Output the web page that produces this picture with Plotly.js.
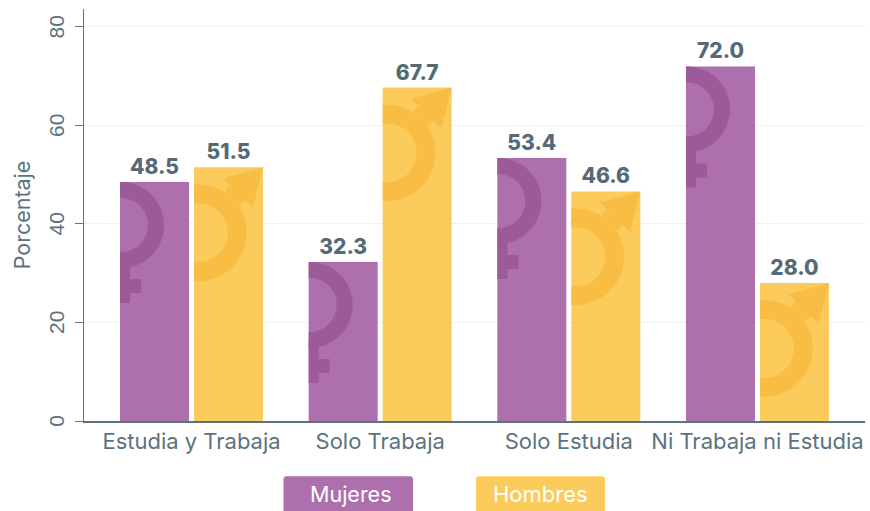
<!DOCTYPE html>
<html>
<head>
<meta charset="utf-8">
<script src="https://cdn.plot.ly/plotly-3.0.1.min.js"></script>
<style>html,body{margin:0;padding:0;background:#fff;overflow:hidden}#c{width:870px;height:511px}</style>
</head>
<body>
<div id="c"></div>
<script>
var categories = ["Estudia y Trabaja", "Solo Trabaja", "Solo Estudia", "Ni Trabaja ni Estudia"];
var mujeres = [48.5, 32.3, 53.4, 72.0];
var hombres = [51.5, 67.7, 46.6, 28.0];
var yTicks = [0, 20, 40, 60, 80];
var positions = [0, 1, 2, 3];

var PURPLE = "#AE6FAE", PURPLE_D = "#9C5A98", YELLOW = "#FBCB5C", YELLOW_D = "#F9BD44";
var SLATE = "#5B7380";
var FONT = "Inter, 'Open Sans', sans-serif";

function ring(cx, cy, R, r) {
  var pts = [], n = 48, i, a;
  var A = Math.acos(-cx / R), B = Math.acos(-cx / r);
  for (i = 0; i <= n; i++) { a = -A + 2 * A * i / n; pts.push([cx + R * Math.cos(a), cy + R * Math.sin(a)]); }
  for (i = n; i >= 0; i--) { a = -B + 2 * B * i / n; pts.push([cx + r * Math.cos(a), cy + r * Math.sin(a)]); }
  return pts;
}
function toPath(pts, dx) {
  return "M" + pts.map(function (p) { return (p[0] + dx).toFixed(1) + "," + (-p[1]).toFixed(1); }).join("L") + "Z";
}
var femaleParts = [
  ring(1, 43, 43, 27),
  [[0, 80], [10, 80], [10, 97], [21, 97], [21, 111], [10, 111], [10, 121], [0, 121]]
];
var maleParts = [
  ring(4.4, 65.3, 48.3, 29.5),
  [[35, 18.5], [52.5, 32], [45.3, 38.5], [31, 23.7]],
  [[69, 0], [28.7, 11.3], [58.7, 40.7]]
];

var SLOT = 74;
var shapes = [];
function addGlyph(parts, xanchor, yanchor, dx, color) {
  parts.forEach(function (pts) {
    shapes.push({type: "path", xsizemode: "pixel", ysizemode: "pixel", xref: "x", yref: "y",
      xanchor: xanchor, yanchor: yanchor, path: toPath(pts, dx),
      fillcolor: color, line: {width: 0}, layer: "above"});
  });
}
positions.forEach(function (p, i) {
  addGlyph(femaleParts, p, mujeres[i], -SLOT + 2.5, PURPLE_D);
  addGlyph(maleParts, p, hombres[i], 2.5, YELLOW_D);
});

function chip(x0, x1, color) {
  var y0 = -0.2215, y1 = -0.134, rx = 0.004, ry = 0.008;
  return {type: "path", xref: "paper", yref: "paper",
    path: "M" + x0 + "," + y0 + "L" + x0 + "," + (y1 - ry) + "Q" + x0 + "," + y1 + " " + (x0 + rx) + "," + y1 +
      "L" + (x1 - rx) + "," + y1 + "Q" + x1 + "," + y1 + " " + x1 + "," + (y1 - ry) + "L" + x1 + "," + y0 + "Z",
    fillcolor: color, line: {width: 0}, layer: "above"};
}
var pw = 781;
shapes.push(chip((283.5 - 84) / pw, (413 - 84) / pw, PURPLE));
shapes.push(chip((476 - 84) / pw, (605 - 84) / pw, YELLOW));

var annotations = [
  {text: "Mujeres", xref: "paper", yref: "paper", x: (350.5 - 84) / pw, y: (421 - 494) / 412, showarrow: false,
   xanchor: "center", yanchor: "middle", font: {family: FONT, size: 21.5, color: "#fff"}},
  {text: "Hombres", xref: "paper", yref: "paper", x: (540.5 - 84) / pw, y: (421 - 494) / 412, showarrow: false,
   xanchor: "center", yanchor: "middle", font: {family: FONT, size: 22, color: "#fff"}}
];

function barTrace(name, values, color) {
  return {type: "bar", name: name, x: positions, y: values, marker: {color: color, line: {width: 0}},
    text: values.map(function (v) { return v.toFixed(1); }), textposition: "outside", cliponaxis: false,
    textfont: {family: FONT, size: 21, color: "#546A76", weight: 800}, hoverinfo: "x+y"};
}

Plotly.newPlot("c", [barTrace("Mujeres", mujeres, PURPLE), barTrace("Hombres", hombres, YELLOW)], {
  width: 870, height: 511,
  margin: {l: 84, r: 5, t: 9, b: 90, pad: 0},
  paper_bgcolor: "#fff", plot_bgcolor: "#fff",
  barmode: "group", bargap: 0.2155, bargroupgap: 0.0676,
  showlegend: false,
  xaxis: {type: "linear", range: [-0.57, 3.57], tickmode: "array", tickvals: positions, ticktext: categories,
    ticks: "", showgrid: false, zeroline: false, showline: true, linecolor: SLATE, linewidth: 1.5,
    tickfont: {family: FONT, size: 22, color: SLATE}},
  yaxis: {range: [0, 83.65], tickmode: "array", tickvals: yTicks, ticks: "outside", ticklen: 8, tickwidth: 1, tickcolor: SLATE,
    tickangle: -90, ticklabelshift: 3, ticklabelstandoff: 2, showgrid: true, gridcolor: "#E9F3F3", gridwidth: 1, zeroline: false, showline: true,
    linecolor: SLATE, linewidth: 1.5, tickfont: {family: "Liberation Sans, Arial, sans-serif", size: 21, color: SLATE},
    title: {text: "Porcentaje", font: {family: FONT, size: 21.5, color: SLATE}, standoff: 8}},
  shapes: shapes, annotations: annotations
}, {displayModeBar: false, staticPlot: true});
</script>
</body>
</html>
